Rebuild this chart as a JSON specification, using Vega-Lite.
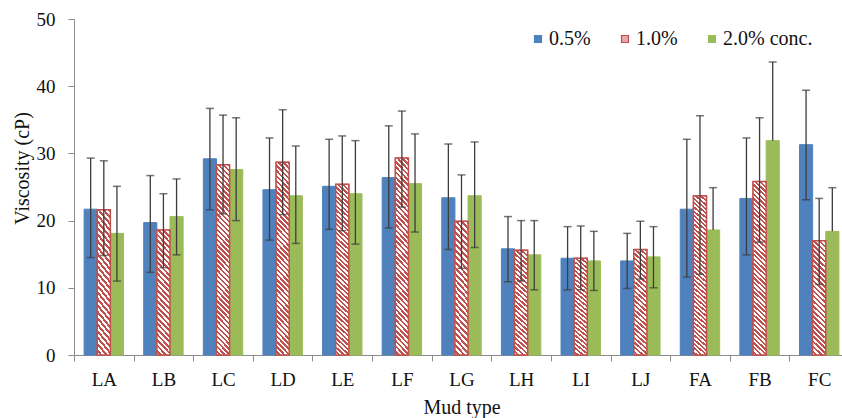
{
"$schema": "https://vega.github.io/schema/vega-lite/v6.json",
"autosize": {"type": "none"},
"padding": {"left": 74, "top": 19, "right": -7, "bottom": 63},
"width": 775,
"height": 336,
"background": "white",
"config": {
  "view": {"stroke": null},
  "font": "Liberation Serif, Times New Roman, DejaVu Serif, serif",
  "axis": {"labelFont": "Liberation Serif, Times New Roman, DejaVu Serif, serif", "titleFont": "Liberation Serif, Times New Roman, DejaVu Serif, serif", "labelFontSize": 19, "titleFontSize": 20, "titleFontWeight": "normal", "labelColor": "#111111", "titleColor": "#111111", "domainColor": "#8c8c8c", "tickColor": "#8c8c8c", "grid": false},
  "legend": {"labelFont": "Liberation Serif, Times New Roman, DejaVu Serif, serif", "labelFontSize": 20, "labelColor": "#111111", "symbolType": "square", "symbolSize": 49, "symbolStrokeWidth": 1.2, "labelOffset": 1, "columnPadding": 24, "padding": 0}
},
"data": {"values": [
{"m":"LA","c":"0.5%","v":21.7,"lo":14.5,"hi":29.3},{"m":"LA","c":"1.0%","v":21.6,"lo":14.8,"hi":28.9},{"m":"LA","c":"2.0% conc.","v":18.1,"lo":11.0,"hi":25.1},
{"m":"LB","c":"0.5%","v":19.7,"lo":12.3,"hi":26.7},{"m":"LB","c":"1.0%","v":18.6,"lo":13.0,"hi":24.0},{"m":"LB","c":"2.0% conc.","v":20.6,"lo":14.9,"hi":26.2},
{"m":"LC","c":"0.5%","v":29.2,"lo":21.6,"hi":36.7},{"m":"LC","c":"1.0%","v":28.3,"lo":21.0,"hi":35.7},{"m":"LC","c":"2.0% conc.","v":27.6,"lo":20.0,"hi":35.3},
{"m":"LD","c":"0.5%","v":24.6,"lo":17.1,"hi":32.3},{"m":"LD","c":"1.0%","v":28.7,"lo":20.9,"hi":36.5},{"m":"LD","c":"2.0% conc.","v":23.7,"lo":16.6,"hi":31.1},
{"m":"LE","c":"0.5%","v":25.1,"lo":18.7,"hi":32.1},{"m":"LE","c":"1.0%","v":25.4,"lo":18.5,"hi":32.6},{"m":"LE","c":"2.0% conc.","v":24.0,"lo":16.5,"hi":31.9},
{"m":"LF","c":"0.5%","v":26.4,"lo":18.9,"hi":34.1},{"m":"LF","c":"1.0%","v":29.3,"lo":22.0,"hi":36.3},{"m":"LF","c":"2.0% conc.","v":25.5,"lo":18.3,"hi":32.9},
{"m":"LG","c":"0.5%","v":23.4,"lo":15.7,"hi":31.4},{"m":"LG","c":"1.0%","v":19.9,"lo":12.9,"hi":26.8},{"m":"LG","c":"2.0% conc.","v":23.7,"lo":16.0,"hi":31.7},
{"m":"LH","c":"0.5%","v":15.8,"lo":10.9,"hi":20.6},{"m":"LH","c":"1.0%","v":15.6,"lo":11.0,"hi":20.0},{"m":"LH","c":"2.0% conc.","v":14.9,"lo":9.7,"hi":20.0},
{"m":"LI","c":"0.5%","v":14.4,"lo":9.7,"hi":19.1},{"m":"LI","c":"1.0%","v":14.4,"lo":9.7,"hi":19.2},{"m":"LI","c":"2.0% conc.","v":14.0,"lo":9.6,"hi":18.4},
{"m":"LJ","c":"0.5%","v":14.0,"lo":9.9,"hi":18.1},{"m":"LJ","c":"1.0%","v":15.7,"lo":11.3,"hi":19.9},{"m":"LJ","c":"2.0% conc.","v":14.6,"lo":10.0,"hi":19.1},
{"m":"FA","c":"0.5%","v":21.7,"lo":11.6,"hi":32.1},{"m":"FA","c":"1.0%","v":23.7,"lo":12.0,"hi":35.6},{"m":"FA","c":"2.0% conc.","v":18.6,"lo":18.6,"hi":24.9},
{"m":"FB","c":"0.5%","v":23.3,"lo":14.9,"hi":32.3},{"m":"FB","c":"1.0%","v":25.8,"lo":16.8,"hi":35.3},{"m":"FB","c":"2.0% conc.","v":31.9,"lo":31.9,"hi":43.6},
{"m":"FC","c":"0.5%","v":31.3,"lo":23.1,"hi":39.4},{"m":"FC","c":"1.0%","v":17.0,"lo":10.5,"hi":23.3},{"m":"FC","c":"2.0% conc.","v":18.4,"lo":18.4,"hi":24.9}
]},
"encoding": {
  "x": {"field": "m", "type": "nominal", "scale": {"domain": ["LA","LB","LC","LD","LE","LF","LG","LH","LI","LJ","FA","FB","FC"], "paddingInner": 0, "paddingOuter": 0},
        "axis": {"title": "Mud type", "labelAngle": 0, "tickBand": "extent", "tickSize": 6, "labelPadding": 9, "titlePadding": 8}},
  "xOffset": {"field": "c", "type": "nominal", "scale": {"domain": ["0.5%","1.0%","2.0% conc."], "paddingInner": 0, "paddingOuter": 0.77}}
},
"layer": [
  {"mark": {"type": "bar", "strokeWidth": 1},
   "encoding": {
     "y": {"field": "v", "type": "quantitative", "title": "Viscosity (cP)", "scale": {"domain": [0, 50], "nice": false},
           "axis": {"values": [0,10,20,30,40,50], "tickSize": 6, "labelPadding": 13, "titlePadding": 4, "titleY": 149}},
     "fill": {"field": "c", "type": "nominal", "scale": {"domain": ["0.5%","1.0%","2.0% conc."], "range": ["#4f81bd","#e3a9a8","#9bbb59"]},
              "legend": {"title": null, "orient": "none", "legendX": 454, "legendY": 10, "direction": "horizontal"}},
     "stroke": {"field": "c", "type": "nominal", "scale": {"domain": ["0.5%","1.0%","2.0% conc."], "range": ["#4f81bd","#c0504d","#9bbb59"]},
              "legend": {"title": null, "orient": "none", "legendX": 454, "legendY": 10, "direction": "horizontal"}}
   }},
  {"transform": [{"filter": "datum.c === '1.0%'"}],
   "mark": {"type": "bar", "stroke": "#c0504d", "strokeWidth": 1.5},
   "encoding": {
     "y": {"field": "v", "type": "quantitative", "title": "Viscosity (cP)"},
     "fill": {"condition": {"test": "datum.v >= 23", "value": {"gradient": "linear", "x1": 1, "y1": 0, "x2": 0.923, "y2": 1.0665, "stops": [
{"offset":0,"color":"#c0504d"},
{"offset":0.0125,"color":"#c0504d"},{"offset":0.0125,"color":"#fff"},{"offset":0.025,"color":"#fff"},{"offset":0.025,"color":"#c0504d"},
{"offset":0.0375,"color":"#c0504d"},{"offset":0.0375,"color":"#fff"},{"offset":0.05,"color":"#fff"},{"offset":0.05,"color":"#c0504d"},
{"offset":0.0625,"color":"#c0504d"},{"offset":0.0625,"color":"#fff"},{"offset":0.075,"color":"#fff"},{"offset":0.075,"color":"#c0504d"},
{"offset":0.0875,"color":"#c0504d"},{"offset":0.0875,"color":"#fff"},{"offset":0.1,"color":"#fff"},{"offset":0.1,"color":"#c0504d"},
{"offset":0.1125,"color":"#c0504d"},{"offset":0.1125,"color":"#fff"},{"offset":0.125,"color":"#fff"},{"offset":0.125,"color":"#c0504d"},
{"offset":0.1375,"color":"#c0504d"},{"offset":0.1375,"color":"#fff"},{"offset":0.15,"color":"#fff"},{"offset":0.15,"color":"#c0504d"},
{"offset":0.1625,"color":"#c0504d"},{"offset":0.1625,"color":"#fff"},{"offset":0.175,"color":"#fff"},{"offset":0.175,"color":"#c0504d"},
{"offset":0.1875,"color":"#c0504d"},{"offset":0.1875,"color":"#fff"},{"offset":0.2,"color":"#fff"},{"offset":0.2,"color":"#c0504d"},
{"offset":0.2125,"color":"#c0504d"},{"offset":0.2125,"color":"#fff"},{"offset":0.225,"color":"#fff"},{"offset":0.225,"color":"#c0504d"},
{"offset":0.2375,"color":"#c0504d"},{"offset":0.2375,"color":"#fff"},{"offset":0.25,"color":"#fff"},{"offset":0.25,"color":"#c0504d"},
{"offset":0.2625,"color":"#c0504d"},{"offset":0.2625,"color":"#fff"},{"offset":0.275,"color":"#fff"},{"offset":0.275,"color":"#c0504d"},
{"offset":0.2875,"color":"#c0504d"},{"offset":0.2875,"color":"#fff"},{"offset":0.3,"color":"#fff"},{"offset":0.3,"color":"#c0504d"},
{"offset":0.3125,"color":"#c0504d"},{"offset":0.3125,"color":"#fff"},{"offset":0.325,"color":"#fff"},{"offset":0.325,"color":"#c0504d"},
{"offset":0.3375,"color":"#c0504d"},{"offset":0.3375,"color":"#fff"},{"offset":0.35,"color":"#fff"},{"offset":0.35,"color":"#c0504d"},
{"offset":0.3625,"color":"#c0504d"},{"offset":0.3625,"color":"#fff"},{"offset":0.375,"color":"#fff"},{"offset":0.375,"color":"#c0504d"},
{"offset":0.3875,"color":"#c0504d"},{"offset":0.3875,"color":"#fff"},{"offset":0.4,"color":"#fff"},{"offset":0.4,"color":"#c0504d"},
{"offset":0.4125,"color":"#c0504d"},{"offset":0.4125,"color":"#fff"},{"offset":0.425,"color":"#fff"},{"offset":0.425,"color":"#c0504d"},
{"offset":0.4375,"color":"#c0504d"},{"offset":0.4375,"color":"#fff"},{"offset":0.45,"color":"#fff"},{"offset":0.45,"color":"#c0504d"},
{"offset":0.4625,"color":"#c0504d"},{"offset":0.4625,"color":"#fff"},{"offset":0.475,"color":"#fff"},{"offset":0.475,"color":"#c0504d"},
{"offset":0.4875,"color":"#c0504d"},{"offset":0.4875,"color":"#fff"},{"offset":0.5,"color":"#fff"},{"offset":0.5,"color":"#c0504d"},
{"offset":0.5125,"color":"#c0504d"},{"offset":0.5125,"color":"#fff"},{"offset":0.525,"color":"#fff"},{"offset":0.525,"color":"#c0504d"},
{"offset":0.5375,"color":"#c0504d"},{"offset":0.5375,"color":"#fff"},{"offset":0.55,"color":"#fff"},{"offset":0.55,"color":"#c0504d"},
{"offset":0.5625,"color":"#c0504d"},{"offset":0.5625,"color":"#fff"},{"offset":0.575,"color":"#fff"},{"offset":0.575,"color":"#c0504d"},
{"offset":0.5875,"color":"#c0504d"},{"offset":0.5875,"color":"#fff"},{"offset":0.6,"color":"#fff"},{"offset":0.6,"color":"#c0504d"},
{"offset":0.6125,"color":"#c0504d"},{"offset":0.6125,"color":"#fff"},{"offset":0.625,"color":"#fff"},{"offset":0.625,"color":"#c0504d"},
{"offset":0.6375,"color":"#c0504d"},{"offset":0.6375,"color":"#fff"},{"offset":0.65,"color":"#fff"},{"offset":0.65,"color":"#c0504d"},
{"offset":0.6625,"color":"#c0504d"},{"offset":0.6625,"color":"#fff"},{"offset":0.675,"color":"#fff"},{"offset":0.675,"color":"#c0504d"},
{"offset":0.6875,"color":"#c0504d"},{"offset":0.6875,"color":"#fff"},{"offset":0.7,"color":"#fff"},{"offset":0.7,"color":"#c0504d"},
{"offset":0.7125,"color":"#c0504d"},{"offset":0.7125,"color":"#fff"},{"offset":0.725,"color":"#fff"},{"offset":0.725,"color":"#c0504d"},
{"offset":0.7375,"color":"#c0504d"},{"offset":0.7375,"color":"#fff"},{"offset":0.75,"color":"#fff"},{"offset":0.75,"color":"#c0504d"},
{"offset":0.7625,"color":"#c0504d"},{"offset":0.7625,"color":"#fff"},{"offset":0.775,"color":"#fff"},{"offset":0.775,"color":"#c0504d"},
{"offset":0.7875,"color":"#c0504d"},{"offset":0.7875,"color":"#fff"},{"offset":0.8,"color":"#fff"},{"offset":0.8,"color":"#c0504d"},
{"offset":0.8125,"color":"#c0504d"},{"offset":0.8125,"color":"#fff"},{"offset":0.825,"color":"#fff"},{"offset":0.825,"color":"#c0504d"},
{"offset":0.8375,"color":"#c0504d"},{"offset":0.8375,"color":"#fff"},{"offset":0.85,"color":"#fff"},{"offset":0.85,"color":"#c0504d"},
{"offset":0.8625,"color":"#c0504d"},{"offset":0.8625,"color":"#fff"},{"offset":0.875,"color":"#fff"},{"offset":0.875,"color":"#c0504d"},
{"offset":0.8875,"color":"#c0504d"},{"offset":0.8875,"color":"#fff"},{"offset":0.9,"color":"#fff"},{"offset":0.9,"color":"#c0504d"},
{"offset":0.9125,"color":"#c0504d"},{"offset":0.9125,"color":"#fff"},{"offset":0.925,"color":"#fff"},{"offset":0.925,"color":"#c0504d"},
{"offset":0.9375,"color":"#c0504d"},{"offset":0.9375,"color":"#fff"},{"offset":0.95,"color":"#fff"},{"offset":0.95,"color":"#c0504d"},
{"offset":0.9625,"color":"#c0504d"},{"offset":0.9625,"color":"#fff"},{"offset":0.975,"color":"#fff"},{"offset":0.975,"color":"#c0504d"},
{"offset":0.9875,"color":"#c0504d"},{"offset":0.9875,"color":"#fff"},{"offset":1,"color":"#fff"}
]}},
     "value": {"gradient": "linear", "x1": 1, "y1": 0, "x2": 0.879, "y2": 1.0967, "stops": [
{"offset":0,"color":"#c0504d"},
{"offset":0.02,"color":"#c0504d"},{"offset":0.02,"color":"#fff"},{"offset":0.04,"color":"#fff"},{"offset":0.04,"color":"#c0504d"},
{"offset":0.06,"color":"#c0504d"},{"offset":0.06,"color":"#fff"},{"offset":0.08,"color":"#fff"},{"offset":0.08,"color":"#c0504d"},
{"offset":0.1,"color":"#c0504d"},{"offset":0.1,"color":"#fff"},{"offset":0.12,"color":"#fff"},{"offset":0.12,"color":"#c0504d"},
{"offset":0.14,"color":"#c0504d"},{"offset":0.14,"color":"#fff"},{"offset":0.16,"color":"#fff"},{"offset":0.16,"color":"#c0504d"},
{"offset":0.18,"color":"#c0504d"},{"offset":0.18,"color":"#fff"},{"offset":0.2,"color":"#fff"},{"offset":0.2,"color":"#c0504d"},
{"offset":0.22,"color":"#c0504d"},{"offset":0.22,"color":"#fff"},{"offset":0.24,"color":"#fff"},{"offset":0.24,"color":"#c0504d"},
{"offset":0.26,"color":"#c0504d"},{"offset":0.26,"color":"#fff"},{"offset":0.28,"color":"#fff"},{"offset":0.28,"color":"#c0504d"},
{"offset":0.3,"color":"#c0504d"},{"offset":0.3,"color":"#fff"},{"offset":0.32,"color":"#fff"},{"offset":0.32,"color":"#c0504d"},
{"offset":0.34,"color":"#c0504d"},{"offset":0.34,"color":"#fff"},{"offset":0.36,"color":"#fff"},{"offset":0.36,"color":"#c0504d"},
{"offset":0.38,"color":"#c0504d"},{"offset":0.38,"color":"#fff"},{"offset":0.4,"color":"#fff"},{"offset":0.4,"color":"#c0504d"},
{"offset":0.42,"color":"#c0504d"},{"offset":0.42,"color":"#fff"},{"offset":0.44,"color":"#fff"},{"offset":0.44,"color":"#c0504d"},
{"offset":0.46,"color":"#c0504d"},{"offset":0.46,"color":"#fff"},{"offset":0.48,"color":"#fff"},{"offset":0.48,"color":"#c0504d"},
{"offset":0.5,"color":"#c0504d"},{"offset":0.5,"color":"#fff"},{"offset":0.52,"color":"#fff"},{"offset":0.52,"color":"#c0504d"},
{"offset":0.54,"color":"#c0504d"},{"offset":0.54,"color":"#fff"},{"offset":0.56,"color":"#fff"},{"offset":0.56,"color":"#c0504d"},
{"offset":0.58,"color":"#c0504d"},{"offset":0.58,"color":"#fff"},{"offset":0.6,"color":"#fff"},{"offset":0.6,"color":"#c0504d"},
{"offset":0.62,"color":"#c0504d"},{"offset":0.62,"color":"#fff"},{"offset":0.64,"color":"#fff"},{"offset":0.64,"color":"#c0504d"},
{"offset":0.66,"color":"#c0504d"},{"offset":0.66,"color":"#fff"},{"offset":0.68,"color":"#fff"},{"offset":0.68,"color":"#c0504d"},
{"offset":0.7,"color":"#c0504d"},{"offset":0.7,"color":"#fff"},{"offset":0.72,"color":"#fff"},{"offset":0.72,"color":"#c0504d"},
{"offset":0.74,"color":"#c0504d"},{"offset":0.74,"color":"#fff"},{"offset":0.76,"color":"#fff"},{"offset":0.76,"color":"#c0504d"},
{"offset":0.78,"color":"#c0504d"},{"offset":0.78,"color":"#fff"},{"offset":0.8,"color":"#fff"},{"offset":0.8,"color":"#c0504d"},
{"offset":0.82,"color":"#c0504d"},{"offset":0.82,"color":"#fff"},{"offset":0.84,"color":"#fff"},{"offset":0.84,"color":"#c0504d"},
{"offset":0.86,"color":"#c0504d"},{"offset":0.86,"color":"#fff"},{"offset":0.88,"color":"#fff"},{"offset":0.88,"color":"#c0504d"},
{"offset":0.9,"color":"#c0504d"},{"offset":0.9,"color":"#fff"},{"offset":0.92,"color":"#fff"},{"offset":0.92,"color":"#c0504d"},
{"offset":0.94,"color":"#c0504d"},{"offset":0.94,"color":"#fff"},{"offset":0.96,"color":"#fff"},{"offset":0.96,"color":"#c0504d"},
{"offset":0.98,"color":"#c0504d"},{"offset":0.98,"color":"#fff"},{"offset":1,"color":"#fff"}
]}}
   }},
  {"mark": {"type": "rule", "color": "#3c3c3c", "strokeWidth": 1.3},
   "encoding": {"y": {"field": "lo", "type": "quantitative", "title": "Viscosity (cP)"}, "y2": {"field": "hi"}}},
  {"mark": {"type": "tick", "color": "#3c3c3c", "thickness": 1.5, "size": 8, "orient": "horizontal"},
   "encoding": {"y": {"field": "hi", "type": "quantitative", "title": "Viscosity (cP)"}}},
  {"transform": [{"filter": "datum.lo < datum.v"}],
   "mark": {"type": "tick", "color": "#3c3c3c", "thickness": 1.5, "size": 8, "orient": "horizontal"},
   "encoding": {"y": {"field": "lo", "type": "quantitative", "title": "Viscosity (cP)"}}}
]
}
